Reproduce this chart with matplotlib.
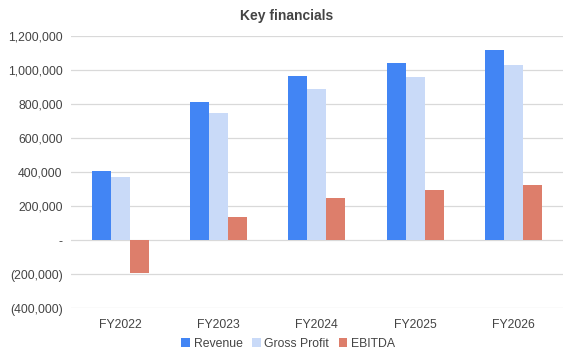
import numpy as np
from matplotlib import pyplot as plt
from matplotlib.ticker import FuncFormatter

plt.rcParams['font.family'] = ['Liberation Sans', 'DejaVu Sans']

# data
years = ['FY2022', 'FY2023', 'FY2024', 'FY2025', 'FY2026']
revenue = [407000, 813000, 967000, 1043000, 1120000]
gross_profit = [371000, 749000, 890000, 961000, 1031000]
ebitda = [-194000, 136000, 248000, 295000, 324000]

series = [('Revenue', revenue, '#4285F4'),
          ('Gross Profit', gross_profit, '#C9DAF8'),
          ('EBITDA', ebitda, '#DD7E6B')]

def fmt(v, pos):
    if v == 0:
        return '-'
    if v < 0:
        return '({:,.0f})'.format(-v)
    return '{:,.0f}'.format(v)

fig = plt.figure(figsize=(5.73, 3.61), dpi=100)
ax = fig.add_axes([0.124, 0.146, 0.858, 0.753])

x = np.arange(len(years))
w = 0.193
for i, (name, vals, col) in enumerate(series):
    ax.bar(x + (i - 1) * w, vals, width=w, color=col, label=name, zorder=3)

ax.set_xlim(-0.5, len(years) - 0.5)
ax.set_ylim(-400000, 1200000)
ax.set_yticks(np.arange(-400000, 1200001, 200000))
ax.yaxis.set_major_formatter(FuncFormatter(fmt))
ax.set_xticks(x)
ax.set_xticklabels(years)

ax.grid(axis='y', color='#D9D9D9', linewidth=0.9, zorder=0)
for s in ax.spines.values():
    s.set_visible(False)
ax.tick_params(length=0, labelsize=8.8, labelcolor='#444444')
ax.tick_params(axis='y', pad=6)
ax.tick_params(axis='x', pad=8)

fig.suptitle('Key financials', x=0.5, y=0.975, fontsize=10, fontweight='bold', color='#444444')

fig.legend(loc='center', bbox_to_anchor=(0.503, 0.047), ncol=3, frameon=False,
           fontsize=8.8, handlelength=0.7, handleheight=0.7, handletextpad=0.3,
           columnspacing=0.8, labelcolor='#444444')

fig.savefig('out.png', dpi=100)
